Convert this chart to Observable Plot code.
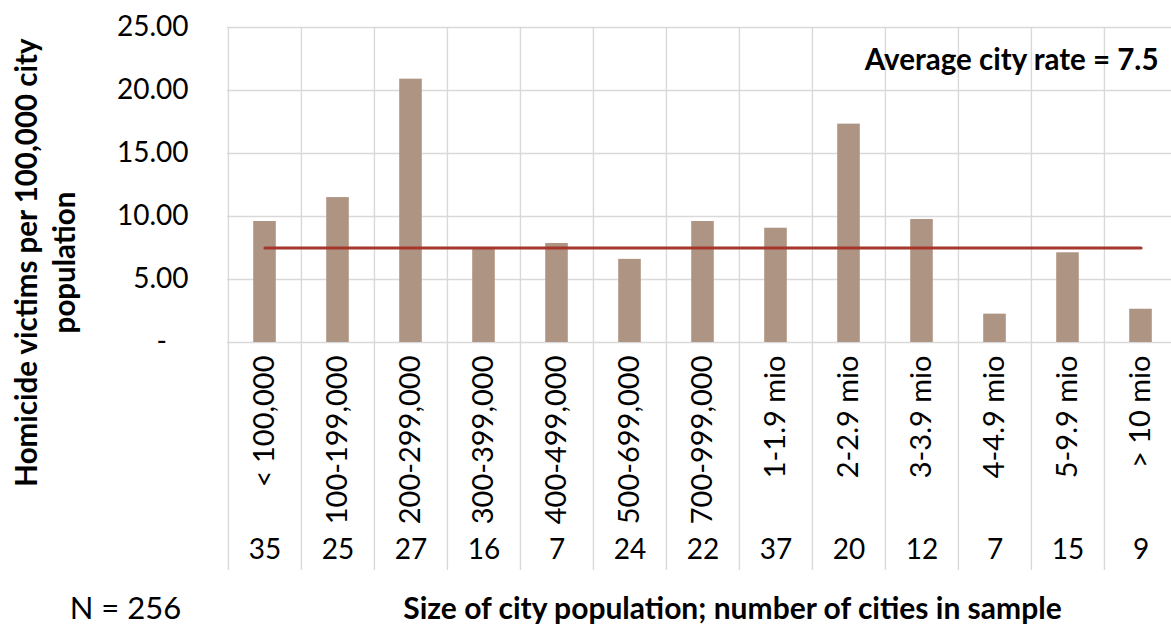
<!DOCTYPE html>
<html>
<head>
<meta charset="utf-8">
<script src="https://cdn.jsdelivr.net/npm/d3@7"></script>
<script src="https://cdn.jsdelivr.net/npm/@observablehq/plot@0.6"></script>
<style>
  html, body { margin: 0; padding: 0; background: #fff; overflow: hidden; }
  #chart svg { display: block; }
</style>
</head>
<body>
<div id="chart"></div>
<script>
const categories = ["< 100,000", "100-199,000", "200-299,000", "300-399,000", "400-499,000", "500-699,000", "700-999,000", "1-1.9 mio", "2-2.9 mio", "3-3.9 mio", "4-4.9 mio", "5-9.9 mio", "> 10 mio"];
const rates = [9.6, 11.5, 20.9, 7.45, 7.86, 6.6, 9.6, 9.07, 17.33, 9.76, 2.25, 7.12, 2.64];
const counts = [35, 25, 27, 16, 7, 24, 22, 37, 20, 12, 7, 15, 9];
const averageRate = 7.5;
const yTicks = [0, 5, 10, 15, 20, 25];
const yTitle = "Homicide victims per 100,000 city\npopulation";
const xTitle = "Size of city population; number of cities in sample";
const averageLabel = "Average city rate = 7.5";
const sampleLabel = "N = 256";

(function () {
const rows = categories.map((c, i) => ({category: c, rate: rates[i], count: counts[i]}));
const avgRows = categories.map(c => ({category: c, value: averageRate}));

const W = 1171, H = 626;
const mLeft = 227, mTop = 27, zeroY = 342, gridBottom = 570;
const bandW = 73.15;
const xRight = mLeft + bandW * categories.length;

const font = "Lato, 'Open Sans', sans-serif";
const grid = "#d9d9d9";

const chart = Plot.plot({
  width: W,
  height: H,
  marginLeft: mLeft,
  marginRight: 0,
  marginTop: mTop,
  marginBottom: H - gridBottom,
  style: {fontFamily: font, background: "#fff", color: "#000"},
  x: {type: "band", domain: categories, range: [mLeft, xRight], padding: 0, axis: null},
  y: {domain: [0, 25], range: [zeroY, mTop], label: null},
  marks: [
    Plot.gridY(yTicks, {stroke: grid, strokeOpacity: 1, strokeWidth: 1.4}),
    Plot.ruleX(categories, {x: d => d, dx: -bandW / 2, stroke: grid, strokeWidth: 1.4}),
    Plot.ruleX(categories.slice(-1), {x: d => d, dx: bandW / 2, stroke: grid, strokeWidth: 1.4}),
    Plot.barY(rows, {x: "category", y: "rate", fill: "#ae9482", insetLeft: 25.2, insetRight: 25.2}),
    Plot.lineY(avgRows, {x: "category", y: "value", stroke: "#a5372d", strokeWidth: 3.2}),
    Plot.axisY(yTicks, {
      tickSize: 0, tickPadding: 39, fontSize: 28, fill: "#000",
      tickFormat: d => d === 0 ? "-\u00a0\u00a0\u00a0" : d.toFixed(2)
    }),
    Plot.text(rows, {x: "category", y: 0, dy: 13, text: "category", rotate: -90, textAnchor: "end", fontSize: 29, fill: "#000"}),
    Plot.text(rows, {x: "category", y: 0, dy: 208, text: d => String(d.count), fontSize: 28, fill: "#000"}),
    Plot.text([averageLabel], {frameAnchor: "top-right", dx: -13, dy: 33, textAnchor: "end", lineAnchor: "middle", fontSize: 29.5, fontWeight: "bold", fill: "#000"}),
    Plot.text([yTitle], {frameAnchor: "left", dx: -184, dy: -36.5, rotate: -90, textAnchor: "middle", lineAnchor: "middle", fontSize: 29.5, fontWeight: "bold", lineHeight: 1.3, fill: "#000"}),
    Plot.text([sampleLabel], {frameAnchor: "bottom-left", dx: -102, dy: 39, textAnchor: "middle", lineAnchor: "middle", fontSize: 31, fill: "#000"}),
    Plot.text([xTitle], {frameAnchor: "bottom", dx: 33, dy: 39, textAnchor: "middle", lineAnchor: "middle", fontSize: 30, fontWeight: "bold", fill: "#000"})
  ]
});
document.getElementById("chart").appendChild(chart);
})();
</script>
</body>
</html>
